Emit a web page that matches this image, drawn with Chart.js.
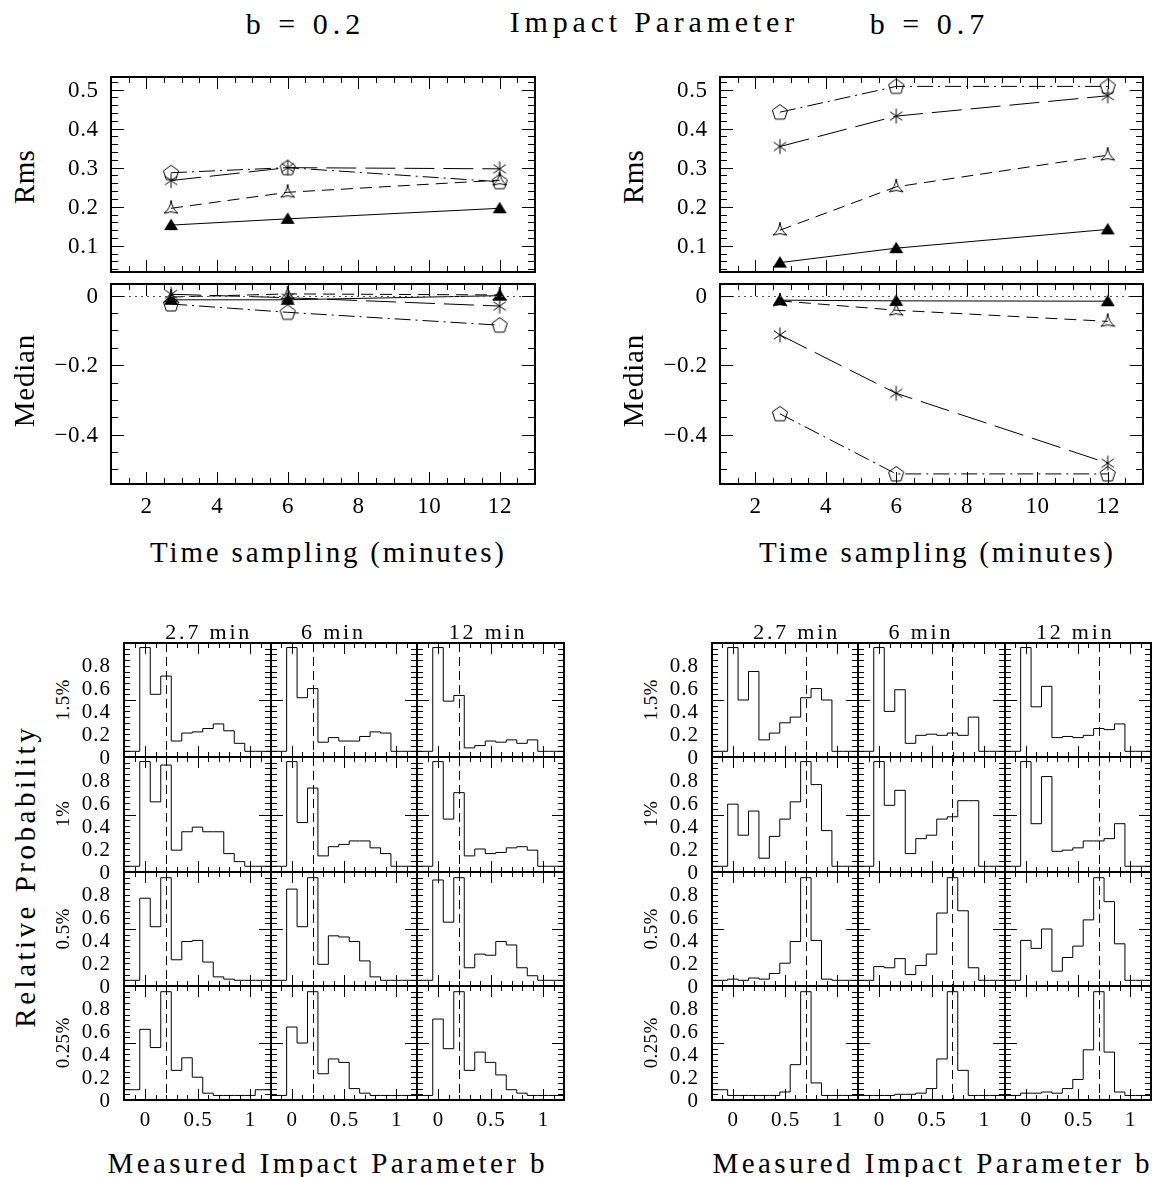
<!DOCTYPE html>
<html>
<head>
<meta charset="utf-8">
<script src="https://cdn.jsdelivr.net/npm/chart.js@4.4.0/dist/chart.umd.min.js"></script>
<style>
  body { margin: 0; background: #fff; width: 1152px; height: 1177px; position: relative; overflow: hidden; }
  canvas { position: absolute; }
  .lbl { position: absolute; white-space: nowrap; color: #000; line-height: 1;
         font-family: "Liberation Serif", "Times New Roman", serif; }
</style>
</head>
<body>
<script>
// Time sampling (minutes) for the Rms / Median panels
const timeSampling = [2.7, 6, 12];

// b = 0.2 : rms and median of the fitted impact parameter, one array per noise level
const rmsB02n025 = [0.153, 0.169, 0.196];
const rmsB02n05 = [0.196, 0.237, 0.268];
const rmsB02n1 = [0.267, 0.300, 0.297];
const rmsB02n15 = [0.287, 0.300, 0.264];
const medB02n025 = [-0.012, -0.012, 0.000];
const medB02n05 = [-0.004, 0.005, 0.002];
const medB02n1 = [0.004, -0.006, -0.030];
const medB02n15 = [-0.024, -0.048, -0.085];

// b = 0.7
const rmsB07n025 = [0.057, 0.094, 0.142];
const rmsB07n05 = [0.140, 0.251, 0.332];
const rmsB07n1 = [0.354, 0.432, 0.484];
const rmsB07n15 = [0.442, 0.508, 0.508];
const medB07n025 = [-0.013, -0.015, -0.016];
const medB07n05 = [-0.015, -0.042, -0.074];
const medB07n1 = [-0.113, -0.281, -0.482];
const medB07n15 = [-0.340, -0.513, -0.513];

// tick labels
const rmsTicks = [0.1, 0.2, 0.3, 0.4, 0.5];
const medianTicks = [0, -0.2, -0.4];
const timeTicks = [2, 4, 6, 8, 10, 12];
const probTicks = [0, 0.2, 0.4, 0.6, 0.8];
const bTicks = [0, 0.5, 1];
const histColumns = ["2.7 min", "6 min", "12 min"];
const histRows = ["1.5%", "1%", "0.5%", "0.25%"];

// histogram bins; each histogram = [below 0, one value per bin, above 1]
const binCentres = [0, 0.1, 0.2, 0.3, 0.4, 0.5, 0.6, 0.7, 0.8, 0.9, 1.0];

// true b = 0.2
const b02n15t27 = [0.05, 0.96, 0.55, 0.71, 0.14, 0.21, 0.22, 0.25, 0.29, 0.23, 0.12, 0.05, 0.05];
const b02n15t6 = [0.05, 0.96, 0.52, 0.60, 0.13, 0.17, 0.14, 0.14, 0.18, 0.22, 0.21, 0.05, 0.05];
const b02n15t12 = [0.05, 0.96, 0.49, 0.54, 0.08, 0.10, 0.14, 0.13, 0.15, 0.12, 0.15, 0.05, 0.05];
const b02n1t27 = [0.05, 0.96, 0.61, 0.93, 0.19, 0.35, 0.39, 0.35, 0.35, 0.16, 0.09, 0.05, 0.05];
const b02n1t6 = [0.05, 0.96, 0.43, 0.73, 0.14, 0.22, 0.24, 0.27, 0.27, 0.21, 0.16, 0.05, 0.05];
const b02n1t12 = [0.05, 0.96, 0.46, 0.69, 0.14, 0.20, 0.16, 0.17, 0.21, 0.22, 0.19, 0.05, 0.05];
const b02n05t27 = [0.05, 0.77, 0.52, 0.95, 0.23, 0.39, 0.40, 0.21, 0.08, 0.06, 0.05, 0.05, 0.05];
const b02n05t6 = [0.05, 0.85, 0.52, 0.95, 0.19, 0.44, 0.43, 0.39, 0.22, 0.08, 0.05, 0.05, 0.05];
const b02n05t12 = [0.05, 0.93, 0.56, 0.95, 0.16, 0.28, 0.27, 0.39, 0.36, 0.16, 0.09, 0.05, 0.05];
const b02n025t27 = [0.09, 0.62, 0.46, 0.95, 0.26, 0.37, 0.20, 0.06, 0.04, 0.04, 0.04, 0.04, 0.09];
const b02n025t6 = [0.04, 0.64, 0.50, 0.95, 0.23, 0.36, 0.33, 0.10, 0.06, 0.04, 0.04, 0.04, 0.04];
const b02n025t12 = [0.04, 0.71, 0.45, 0.95, 0.26, 0.42, 0.33, 0.22, 0.09, 0.06, 0.04, 0.04, 0.04];

// true b = 0.7
const b07n15t27 = [0.05, 0.96, 0.50, 0.75, 0.15, 0.21, 0.30, 0.35, 0.52, 0.60, 0.50, 0.05, 0.05];
const b07n15t6 = [0.05, 0.96, 0.40, 0.59, 0.12, 0.19, 0.20, 0.19, 0.21, 0.19, 0.35, 0.05, 0.05];
const b07n15t12 = [0.05, 0.96, 0.44, 0.62, 0.17, 0.18, 0.17, 0.19, 0.25, 0.24, 0.29, 0.05, 0.05];
const b07n1t27 = [0.05, 0.59, 0.32, 0.53, 0.12, 0.31, 0.46, 0.61, 0.96, 0.76, 0.36, 0.05, 0.05];
const b07n1t6 = [0.05, 0.96, 0.58, 0.71, 0.16, 0.29, 0.32, 0.46, 0.48, 0.62, 0.62, 0.05, 0.05];
const b07n1t12 = [0.05, 0.96, 0.42, 0.83, 0.18, 0.19, 0.21, 0.27, 0.27, 0.29, 0.42, 0.05, 0.05];
const b07n05t27 = [0.05, 0.06, 0.05, 0.07, 0.06, 0.11, 0.20, 0.39, 0.95, 0.40, 0.06, 0.05, 0.05];
const b07n05t6 = [0.05, 0.17, 0.16, 0.24, 0.10, 0.18, 0.28, 0.64, 0.95, 0.66, 0.16, 0.05, 0.05];
const b07n05t12 = [0.05, 0.40, 0.33, 0.50, 0.13, 0.25, 0.35, 0.58, 0.95, 0.74, 0.37, 0.05, 0.05];
const b07n025t27 = [0.09, 0.04, 0.04, 0.04, 0.04, 0.04, 0.07, 0.31, 0.95, 0.15, 0.04, 0.04, 0.04];
const b07n025t6 = [0.04, 0.04, 0.04, 0.05, 0.05, 0.06, 0.10, 0.36, 0.95, 0.26, 0.04, 0.04, 0.04];
const b07n025t12 = [0.04, 0.06, 0.06, 0.07, 0.06, 0.10, 0.18, 0.44, 0.95, 0.42, 0.07, 0.04, 0.04];

// axis ranges
const timeRange = [1, 13];
const rmsRange = [0.033, 0.532];
const medianRange = [-0.542, 0.0335];
const bRange = [-0.2, 1.2];
const probRange = [0, 1];

const FONT = "'Liberation Serif', 'Times New Roman', serif";

// ---------- markers (PGPLOT-like symbols) ----------
function makeMarker(kind) {
  const s = 22, c = document.createElement("canvas");
  c.width = s; c.height = s;
  const g = c.getContext("2d");
  g.translate(s / 2, s / 2);
  g.strokeStyle = "#000";
  g.fillStyle = "#000";
  g.lineWidth = 1;
  g.beginPath();
  if (kind === "filledTriangle") {
    g.moveTo(0, -6.5); g.lineTo(7, 5); g.lineTo(-7, 5); g.closePath();
    g.fill();
  } else if (kind === "openTriangle") {
    const p = [[0, -8], [7, 5], [-7, 5]];
    g.moveTo(p[0][0], p[0][1]);
    for (let i = 0; i < 3; i++) {
      const a = p[i], b = p[(i + 1) % 3];
      const mx = (a[0] + b[0]) / 2, my = (a[1] + b[1]) / 2;
      g.quadraticCurveTo(mx * 0.25, my * 0.25 + 0.8, b[0], b[1]);
    }
    g.stroke();
  } else if (kind === "asterisk") {
    [90, 35, 145].forEach(deg => {
      const r = deg * Math.PI / 180, dx = Math.cos(r) * 7.5, dy = Math.sin(r) * 7.5;
      g.moveTo(-dx, -dy); g.lineTo(dx, dy);
    });
    g.stroke();
  } else {
    for (let i = 0; i < 5; i++) {
      const r = (-90 + i * 72) * Math.PI / 180;
      const x = Math.cos(r) * 8, y = Math.sin(r) * 8 + 0.5;
      i ? g.lineTo(x, y) : g.moveTo(x, y);
    }
    g.closePath();
    g.stroke();
  }
  return c;
}

const seriesStyles = [
  { marker: makeMarker("filledTriangle"), dash: [] },
  { marker: makeMarker("openTriangle"), dash: [12, 7] },
  { marker: makeMarker("asterisk"), dash: [30, 9] },
  { marker: makeMarker("pentagon"), dash: [16, 5, 2, 5] }
];

// ---------- frame / ticks / labels plugin ----------
function ticksBetween(min, max, step) {
  const out = [];
  const start = Math.ceil(min / step - 1e-9), end = Math.floor(max / step + 1e-9);
  for (let k = start; k <= end; k++) out.push(k * step);
  return out;
}
function isMultiple(v, step) {
  const r = v / step;
  return Math.abs(r - Math.round(r)) < 1e-6;
}
function fmt(v) {
  if (Math.abs(v) < 1e-9) return "0";
  return v < 0 ? "\u2212" + String(+(-v).toFixed(2)) : String(+v.toFixed(2));
}

const framePlugin = {
  id: "frame",
  afterDatasetsDraw(chart, args, o) {
    const { ctx, chartArea: a } = chart;
    const sx = chart.scales.x, sy = chart.scales.y;
    ctx.save();
    ctx.strokeStyle = "#000";
    ctx.lineWidth = 1;

    if (o.zeroLine) {
      const py = Math.round(sy.getPixelForValue(0)) + 0.5;
      ctx.strokeStyle = "#555";
      ctx.setLineDash([2, 4]);
      ctx.beginPath(); ctx.moveTo(a.left, py); ctx.lineTo(a.right, py); ctx.stroke();
      ctx.setLineDash([]);
      ctx.strokeStyle = "#000";
    }
    if (o.trueB != null) {
      const px = Math.round(sx.getPixelForValue(o.trueB)) + 0.5;
      ctx.setLineDash([9, 5]);
      ctx.beginPath(); ctx.moveTo(px, a.top); ctx.lineTo(px, a.bottom); ctx.stroke();
      ctx.setLineDash([]);
    }

    ctx.beginPath();
    for (const v of ticksBetween(sx.min, sx.max, o.xMinor)) {
      if (Math.abs(v - sx.min) < 1e-9 || Math.abs(v - sx.max) < 1e-9) continue;
      const len = isMultiple(v, o.xMajor) ? o.majorLen : o.minorLen;
      const px = Math.round(sx.getPixelForValue(v)) + 0.5;
      ctx.moveTo(px, a.top); ctx.lineTo(px, a.top + len);
      ctx.moveTo(px, a.bottom); ctx.lineTo(px, a.bottom - len);
    }
    for (const v of ticksBetween(sy.min, sy.max, o.yMinor)) {
      if (Math.abs(v - sy.min) < 1e-9 || Math.abs(v - sy.max) < 1e-9) continue;
      const len = isMultiple(v, o.yMajor) ? o.majorLen + 1 : o.minorLen + 1;
      const py = Math.round(sy.getPixelForValue(v)) + 0.5;
      ctx.moveTo(a.left, py); ctx.lineTo(a.left + len, py);
      ctx.moveTo(a.right, py); ctx.lineTo(a.right - len, py);
    }
    ctx.stroke();

    ctx.lineWidth = 2;
    ctx.strokeRect(a.left, a.top, a.right - a.left, a.bottom - a.top);

    ctx.fillStyle = "#000";
    ctx.font = o.labelSize + "px " + FONT;
    ctx.letterSpacing = o.labelSpacing + "px";
    ctx.textBaseline = "middle";
    if (o.xLabels) {
      ctx.textAlign = "center";
      for (const v of o.xLabels) {
        ctx.fillText(fmt(v), sx.getPixelForValue(v) + o.labelSpacing / 2, a.bottom + o.xLabelGap);
      }
    }
    if (o.yLabels) {
      ctx.textAlign = "right";
      for (const v of o.yLabels) {
        ctx.fillText(fmt(v), a.left - o.yLabelGap + o.labelSpacing, sy.getPixelForValue(v) + 1);
      }
    }
    ctx.restore();
  }
};

// ---------- chart helper ----------
function makeChart(box, pad, datasets, xRange, yRange, frame) {
  const canvas = document.createElement("canvas");
  const w = box.w + pad.l + pad.r, h = box.h + pad.t + pad.b;
  canvas.width = w;
  canvas.height = h;
  canvas.style.left = (box.x - pad.l) + "px";
  canvas.style.top = (box.y - pad.t) + "px";
  canvas.style.width = w + "px";
  canvas.style.height = h + "px";
  document.body.appendChild(canvas);
  return new Chart(canvas, {
    type: "line",
    data: { datasets },
    options: {
      responsive: false,
      animation: false,
      devicePixelRatio: 1,
      events: [],
      layout: { padding: { left: pad.l, top: pad.t, right: pad.r, bottom: pad.b } },
      plugins: { legend: { display: false }, tooltip: { enabled: false }, frame },
      scales: {
        x: { type: "linear", display: false, min: xRange[0], max: xRange[1] },
        y: { type: "linear", display: false, min: yRange[0], max: yRange[1] }
      }
    },
    plugins: [framePlugin]
  });
}

function label(text, x, y, size, spacing, rotate) {
  const d = document.createElement("div");
  d.className = "lbl";
  d.textContent = text;
  d.style.left = x + "px";
  d.style.top = y + "px";
  d.style.fontSize = size + "px";
  d.style.letterSpacing = spacing + "px";
  d.style.paddingLeft = spacing + "px";
  d.style.transform = "translate(-50%, -50%)" + (rotate ? " rotate(-90deg)" : "");
  document.body.appendChild(d);
}

// ---------- Rms / Median panels ----------
function seriesSets(arrays) {
  return arrays.map((vals, i) => ({
    data: timeSampling.map((t, k) => ({ x: t, y: vals[k] })),
    borderColor: "#000",
    borderWidth: 1,
    borderDash: seriesStyles[i].dash,
    pointStyle: seriesStyles[i].marker,
    pointRadius: 8,
    fill: false,
    tension: 0
  }));
}

const topTicks = { xMinor: 0.5, xMajor: 2, majorLen: 12, minorLen: 6, labelSize: 23, labelSpacing: 0.6, xLabelGap: 23, yLabelGap: 13 };

function drawTopPanel(left, width, rmsSets, medSets) {
  makeChart({ x: left, y: 73, w: width, h: 205 }, { l: 60, t: 5, r: 1, b: 3 },
    seriesSets(rmsSets), timeRange, rmsRange,
    Object.assign({}, topTicks, { yMinor: 0.02, yMajor: 0.1, yLabels: rmsTicks }));
  makeChart({ x: left, y: 278, w: width, h: 206 }, { l: 60, t: 3, r: 1, b: 40 },
    seriesSets(medSets), timeRange, medianRange,
    Object.assign({}, topTicks, { yMinor: 0.05, yMajor: 0.2, yLabels: medianTicks, xLabels: timeTicks, zeroLine: true }));
}

drawTopPanel(111, 432, [rmsB02n025, rmsB02n05, rmsB02n1, rmsB02n15], [medB02n025, medB02n05, medB02n1, medB02n15]);
drawTopPanel(720, 431, [rmsB07n025, rmsB07n05, rmsB07n1, rmsB07n15], [medB07n025, medB07n05, medB07n1, medB07n15]);

// ---------- histogram grids ----------
function stepPoints(h) {
  const half = (binCentres[1] - binCentres[0]) / 2;
  const pts = [{ x: bRange[0], y: h[0] }];
  binCentres.forEach((c, i) => pts.push({ x: c - half, y: h[i + 1] }));
  const last = h[h.length - 1];
  pts.push({ x: binCentres[binCentres.length - 1] + half, y: last });
  pts.push({ x: bRange[1], y: last });
  return pts;
}

function drawGrid(grid, trueB, left, right, top, bottom) {
  const cw = (right - left) / 3, rh = (bottom - top) / 4;
  grid.forEach((row, r) => row.forEach((h, c) => {
    const x0 = Math.round(left + c * cw), x1 = Math.round(left + (c + 1) * cw);
    const y0 = Math.round(top + r * rh), y1 = Math.round(top + (r + 1) * rh);
    makeChart({ x: x0, y: y0, w: x1 - x0, h: y1 - y0 },
      { l: c === 0 ? 50 : 3, t: 3, r: 1, b: r === 3 ? 32 : (c === 0 ? 14 : 3) },
      [{ data: stepPoints(h), stepped: true, borderColor: "#000", borderWidth: 1, pointRadius: 0, fill: false }],
      bRange, probRange,
      { xMinor: 0.1, xMajor: 0.5, yMinor: 0.05, yMajor: 0.5, majorLen: 11, minorLen: 5,
        labelSize: 21, labelSpacing: 1, xLabelGap: 20, yLabelGap: 14,
        yLabels: c === 0 ? probTicks : null, xLabels: r === 3 ? bTicks : null, trueB });
  }));
  const headerShift = [10, -12, -4];
  histColumns.forEach((t, c) => label(t, left + (c + 0.5) * cw + headerShift[c], 632, 22, 2.8, false));
  histRows.forEach((t, r) => label(t, left - 62, top + (r + 0.5) * rh, 19, 0.4, true));
}

drawGrid([[b02n15t27, b02n15t6, b02n15t12],
          [b02n1t27, b02n1t6, b02n1t12],
          [b02n05t27, b02n05t6, b02n05t12],
          [b02n025t27, b02n025t6, b02n025t12]], 0.2, 124, 564, 643, 1100);
drawGrid([[b07n15t27, b07n15t6, b07n15t12],
          [b07n1t27, b07n1t6, b07n1t12],
          [b07n05t27, b07n05t6, b07n05t12],
          [b07n025t27, b07n025t6, b07n025t12]], 0.7, 712, 1151, 643, 1100);

// ---------- titles ----------
label("b = 0.2", 303, 24, 30, 5, false);
label("Impact Parameter", 652, 22, 30, 4.8, false);
label("b = 0.7", 927, 24, 30, 5, false);
label("Rms", 24, 177, 29, 0.3, true);
label("Median", 24, 381, 29, 0.8, true);
label("Rms", 633, 177, 29, 0.3, true);
label("Median", 633, 381, 29, 0.8, true);
label("Time sampling (minutes)", 327, 552, 29, 2.8, false);
label("Time sampling (minutes)", 936, 552, 29, 2.8, false);
label("Relative Probability", 25, 878, 29, 3.5, true);
label("Measured Impact Parameter b", 326, 1163, 29, 3.4, false);
label("Measured Impact Parameter b", 931, 1163, 29, 3.4, false);
</script>
</body>
</html>
